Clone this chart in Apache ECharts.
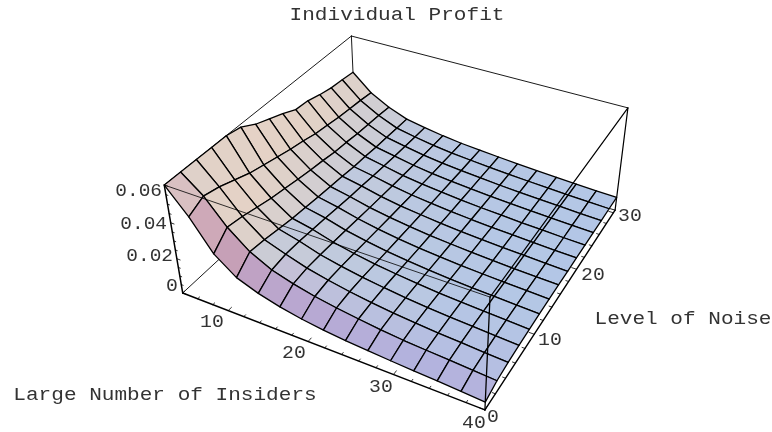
<!DOCTYPE html>
<html><head><meta charset="utf-8">
<style>html,body{margin:0;padding:0;background:#fff}#c{width:772px;height:432px}</style>
<script src="https://cdn.jsdelivr.net/npm/echarts@6/dist/echarts.min.js"></script>
</head><body><div id="c"></div>
<script>
// ---- data ----
const titleText = 'Individual Profit';
const xName = 'Large Number of Insiders';
const yName = 'Level of Noise';
const insiders = [4,6.57,9.14,11.71,14.29,16.86,19.43,22,24.57,27.14,29.71,32.29,34.86,37.43,40];
const noise = [0,2.18,4.36,6.54,8.71,10.89,13.07,15.25,17.43,19.61,21.79,23.96,26.14,28.32,30.5];
const profit0  = [.06,.06,.06,.06,.06,.0585,.054,.051,.048,.0444,.0437,.0416,.040,.0393,.0384];
const profit1  = [.047,.051,.049,.046,.043,.041,.039,.037,.0355,.0335,.0325,.0313,.0305,.0298,.0288];
const profit2  = [.031,.038,.0366,.0346,.0326,.0312,.0298,.0285,.0274,.0261,.0255,.0246,.0241,.0236,.0229];
const profit3  = [.022,.0285,.0276,.0262,.0249,.024,.0231,.0223,.0216,.0207,.0203,.0197,.0194,.019,.0186];
const profit4  = [.0175,.0225,.0235,.0232,.0225,.0217,.0208,.02,.0194,.0187,.0181,.0176,.0172,.0168,.0165];
const profit5  = [.0143,.019,.0198,.0196,.0191,.0185,.0179,.0173,.0168,.0163,.0158,.0155,.0152,.0149,.0147];
const profit6  = [.012,.0162,.0172,.0171,.0167,.0162,.0157,.0153,.0149,.0145,.0142,.0139,.0137,.0135,.0133];
const profit7  = [.0103,.0142,.015,.015,.0147,.0143,.014,.0137,.0135,.0132,.013,.0128,.0126,.0125,.0124];
const profit8  = [.0091,.0125,.0132,.0134,.0132,.0129,.0126,.0124,.0122,.012,.0119,.0118,.0117,.0116,.0115];
const profit9  = [.0082,.011,.0118,.012,.0119,.0117,.0115,.0114,.0112,.0111,.011,.0109,.0108,.0108,.0107];
const profit10 = [.0074,.0098,.0106,.0108,.0108,.0107,.0106,.0105,.0104,.0103,.0103,.0102,.0101,.0101,.01];
const profit11 = [.0067,.009,.0097,.01,.0101,.01,.0099,.0098,.0098,.0097,.0096,.0096,.0095,.0095,.0094];
const profit12 = [.0061,.0083,.009,.0093,.0094,.0094,.0093,.0092,.0092,.0091,.0091,.009,.009,.0089,.0088];
const profit13 = [.0053,.0075,.0082,.0086,.0088,.0088,.0088,.0087,.0086,.0086,.0085,.0085,.0084,.0084,.0083];
const profit14 = [.0045,.0067,.0075,.008,.0082,.0083,.0083,.0083,.0082,.0082,.0081,.0081,.008,.008,.0079];
const profitRows = [profit0,profit1,profit2,profit3,profit4,profit5,profit6,profit7,profit8,profit9,profit10,profit11,profit12,profit13,profit14];
const xTicks = [10,20,30,40];
const yTicks = [0,10,20,30];
const zTicks = [0,0.02,0.04,0.06];
const xMinor = [4,6,8,12,14,16,18,22,24,26,28,32,34,36,38];
const yMinor = [2,4,6,8,12,14,16,18,22,24,26,28];
const zMinor = [.005,.01,.015,.025,.03,.035,.045,.05,.055];

// ---- camera: box corners on the page fix a perspective projection ----
const X0=4,X1=40,Y1=30.5,Z1=0.06;
const corners=[[0,0,0,182,293],[1,0,0,484,410],[1,1,0,615,210],[0,1,0,357,133],
               [0,0,1,165,185],[1,0,1,491,297],[1,1,1,628,108],[0,1,1,350,36]];
function solveCamera(){
  const rows=[],rhs=[];
  corners.forEach(([u,v,w,px,py])=>{
    rows.push([u,v,w,1,0,0,0,0,-px*u,-px*v,-px*w]);rhs.push(px);
    rows.push([0,0,0,0,u,v,w,1,-py*u,-py*v,-py*w]);rhs.push(py);
  });
  const n=11,A=[];
  for(let a=0;a<n;a++){A.push([]);for(let b=0;b<=n;b++){let s=0;
    rows.forEach((r,k)=>{s+=r[a]*(b<n?r[b]:rhs[k]);});A[a].push(s);}}
  for(let c=0;c<n;c++){let p=c;for(let r=c+1;r<n;r++)if(Math.abs(A[r][c])>Math.abs(A[p][c]))p=r;
    [A[c],A[p]]=[A[p],A[c]];
    for(let r=0;r<n;r++)if(r!==c){const f=A[r][c]/A[c][c];for(let k=c;k<=n;k++)A[r][k]-=f*A[c][k];}}
  return A.map((r,i)=>r[n]/r[i]);
}
const P=solveCamera();
function project(x,y,z){
  const u=(x-X0)/(X1-X0),v=y/Y1,w=z/Z1;
  const d=P[8]*u+P[9]*v+P[10]*w+1;
  return [(P[0]*u+P[1]*v+P[2]*w+P[3])/d,(P[4]*u+P[5]*v+P[6]*w+P[7])/d];
}

// ---- shading from the surface slope ----
function cellColor(i,j){
  const a=profitRows[i][j],b=profitRows[i][j+1],c=profitRows[i+1][j],d=profitRows[i+1][j+1];
  const k=0.4*14/Z1;
  const sx=(a+b-c-d)/2*k, sy=(b+d-a-c)/2*k;
  const mx=Math.pow(Math.min(Math.max(sx,0),1),0.7), py=Math.max(sy,0), ny=Math.max(-sy,0);
  const R=174+50*mx-30*py*mx-6*py+15*ny;
  const G=197+13*mx-70*Math.pow(py,0.8);
  const B=233-33*mx-32*py-8*ny;
  return `rgb(${Math.round(R)},${Math.round(G)},${Math.round(B)})`;
}

// far-to-near cell order
const cells=[];
for(let i=0;i<insiders.length-1;i++)for(let j=noise.length-2;j>=0;j--)cells.push([i,j]);

const backEdges=[[[X0,Y1,Z1],[X1,Y1,Z1]],[[X0,0,Z1],[X0,Y1,Z1]],[[X0,Y1,0],[X0,Y1,Z1]],[[X0,0,0],[X0,Y1,0]],[[X0,Y1,0],[X1,Y1,0]]];
const frontEdges=[{p:[[X0,0,Z1],[X1,0,Z1]],w:0.8},{p:[[X1,0,Z1],[X1,Y1,Z1]],w:1.2},{p:[[X1,0,0],[X1,0,Z1]],w:1.3},{p:[[X1,Y1,0],[X1,Y1,Z1]],w:1.2},
  {p:[[X0,0,0],[X0,0,Z1]],w:1.5},{p:[[X0,0,0],[X1,0,0]],w:1.4},{p:[[X1,0,0],[X1,Y1,0]],w:1.4}];
const ticks=[];
xTicks.forEach(x=>ticks.push([[x,0,0],[x,Y1*.016,0]]));
xMinor.forEach(x=>ticks.push([[x,0,0],[x,Y1*.009,0]]));
yTicks.forEach(y=>ticks.push([[X1,y,0],[X1-(X1-X0)*.016,y,0]]));
yMinor.forEach(y=>ticks.push([[X1,y,0],[X1-(X1-X0)*.009,y,0]]));
zTicks.forEach(z=>ticks.push([[X0,0,z],[X0+(X1-X0)*.012,0,z]]));
zMinor.forEach(z=>ticks.push([[X0,0,z],[X0+(X1-X0)*.007,0,z]]));

function segItem(api,a,b,w){
  const s=api.coord(project(a[0],a[1],a[2])),e=api.coord(project(b[0],b[1],b[2]));
  return {type:'line',shape:{x1:s[0],y1:s[1],x2:e[0],y2:e[1]},style:{stroke:'#000',lineWidth:w,lineCap:'round'}};
}

const FONT='18px "Liberation Mono"';
function label(text,x,y,align,sx){
  return {type:'text',x:x,y:y,scaleX:sx||1.17,silent:true,
    style:{text:text,font:FONT,fill:'#333',align:align||'center',verticalAlign:'middle'}};
}
const texts=[
  label(titleText,397,15),label(xName,165,395),label(yName,683,319),
  label('10',212,322,'center',1.1),label('20',294,353,'center',1.1),label('30',381,387,'center',1.1),label('40',474,423,'center',1.1),
  label('0',493,417,'center',1.1),label('10',550,340,'center',1.1),label('20',593,275,'center',1.1),label('30',630,216,'center',1.1),
  label('0',172,286,'center',1.1),label('0.02',173,256,'right',1.08),label('0.04',167,224,'right',1.08),label('0.06',162,191,'right',1.08)
];

const chart=echarts.init(document.getElementById('c'));
chart.setOption({
  backgroundColor:'#fff',animation:false,
  grid:{left:0,right:0,top:0,bottom:0},
  xAxis:{type:'value',min:0,max:772,show:false},
  yAxis:{type:'value',min:0,max:432,inverse:true,show:false},
  graphic:{elements:texts},
  series:[
    {name:'box back',type:'custom',clip:false,silent:true,z:1,data:backEdges.map((e,i)=>[i]),
     renderItem:(p,api)=>{const e=backEdges[api.value(0)];return segItem(api,e[0],e[1],0.9);}},
    {name:'surface',type:'custom',clip:false,silent:true,z:2,data:cells,
     renderItem:(p,api)=>{
       const i=api.value(0),j=api.value(1);
       const pt=(a,b)=>api.coord(project(insiders[a],noise[b],Math.min(profitRows[a][b],Z1)));
       return {type:'polygon',shape:{points:[pt(i,j),pt(i+1,j),pt(i+1,j+1),pt(i,j+1)]},
         style:{fill:cellColor(i,j),stroke:'#000',lineWidth:1.3,lineJoin:'round'}};
     }},
    {name:'box front',type:'custom',clip:false,silent:true,z:3,data:frontEdges.map((e,i)=>[i]),
     renderItem:(p,api)=>{const e=frontEdges[api.value(0)];return segItem(api,e.p[0],e.p[1],e.w);}},
    {name:'ticks',type:'custom',clip:false,silent:true,z:3,data:ticks.map((e,i)=>[i]),
     renderItem:(p,api)=>{const e=ticks[api.value(0)];return segItem(api,e[0],e[1],0.8);}}
  ]
});
</script></body></html>
